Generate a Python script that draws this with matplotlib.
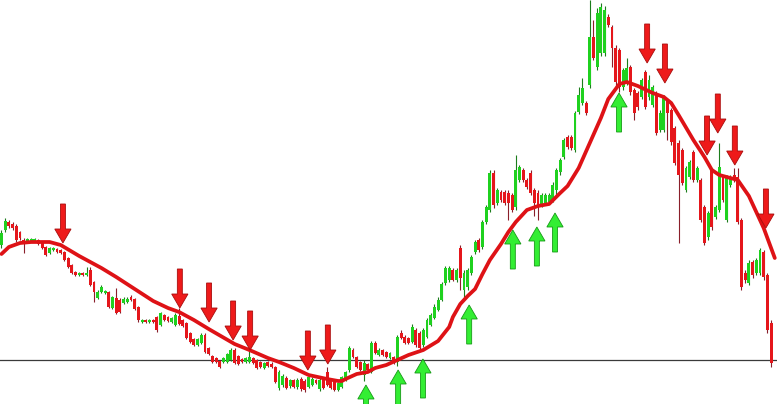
import matplotlib
matplotlib.use("Agg")
import matplotlib.pyplot as plt
import numpy as np

# ---- candle data (price units) ----
opens = [
    159,174,182,180,178,172,164,162,163,163,
    164,161,157,151,154,155,154,152,146,139,
    132,129,131,129,134,122,106,112,111,112,
    96,106,104,101,102,107,105,97,82,84,
    82,84,87,79,89,87,82,79,88,84,
    81,71,65,59,61,69,56,48,46,43,
    42,42,44,54,48,45,42,42,46,44,
    42,36,42,40,37,16,19,26,18,24,
    17,25,23,17,19,24,15,26,32,24,
    22,14,17,24,34,54,47,42,29,40,
    32,61,49,54,52,46,47,42,71,67,
    66,62,74,71,59,67,79,86,94,104,
    121,124,134,124,156,114,117,131,152,164,
    157,182,194,231,201,212,212,211,209,197,
    224,234,224,231,214,211,199,201,202,204,
    214,232,247,267,267,254,292,301,301,319,
    367,337,351,351,387,377,356,354,317,321,
    337,314,311,307,332,307,299,311,274,274,
    304,294,276,261,254,214,227,252,224,224,
    197,167,234,187,194,227,184,219,229,227,
    184,131,121,142,131,131,152,129,81,
]
closes = [
    171,183,178,176,164,166,161,165,165,165,
    160,156,149,156,156,152,151,144,137,131,
    129,131,129,131,119,112,112,117,113,97,
    107,91,92,105,105,104,95,84,84,82,
    84,82,74,91,84,83,86,89,80,78,
    66,62,59,65,69,52,50,42,42,37,
    46,50,54,41,40,42,46,47,41,36,
    37,41,38,37,22,32,28,16,24,17,
    24,15,14,27,25,21,24,16,19,16,
    14,21,27,32,56,47,37,34,41,34,
    61,51,54,49,47,51,41,67,66,61,
    61,77,59,56,74,84,89,97,104,120,
    136,136,124,134,126,131,134,147,162,154,
    182,197,231,199,214,204,201,201,194,234,
    237,224,217,211,201,197,209,209,209,219,
    234,244,264,257,256,291,309,316,291,367,
    346,391,397,394,379,356,322,317,334,336,
    312,291,297,324,297,324,317,271,291,307,
    291,262,241,229,221,236,242,224,236,184,
    161,191,177,197,237,204,227,227,224,182,
    117,124,141,129,144,154,127,74,41,
]
highs = [
    174,186,184,182,180,173,166,166,166,166,
    165,162,158,157,157,156,155,153,147,140,
    133,132,132,137,137,123,114,119,114,113,
    108,116,106,107,107,109,106,98,85,85,
    85,85,88,92,90,88,87,91,96,85,
    82,72,66,66,71,71,57,49,47,44,
    47,51,56,56,49,46,47,54,47,45,
    43,42,43,42,38,34,30,28,25,25,
    26,27,25,29,27,25,26,27,37,25,
    23,22,28,33,58,56,48,43,44,41,
    63,63,56,55,53,52,48,69,74,69,
    67,80,76,73,76,86,91,100,107,122,
    138,138,136,136,159,134,136,149,164,166,
    184,199,234,234,216,214,214,214,211,249,
    239,236,226,234,216,214,211,211,211,222,
    236,246,266,269,269,293,317,326,303,404,
    384,396,401,398,390,379,359,356,336,346,
    339,316,313,326,334,329,319,313,294,309,
    306,296,278,264,256,238,244,254,238,226,
    199,193,236,199,261,229,229,229,236,236,
    186,134,144,144,146,156,154,131,84,
]
lows = [
    156,172,176,174,162,164,151,161,162,162,
    159,155,148,150,153,151,150,143,136,130,
    128,128,128,128,118,102,105,111,110,96,
    95,90,91,100,101,103,94,82,81,81,
    81,81,72,78,83,82,81,78,79,77,
    65,61,58,58,60,51,49,41,41,36,
    41,41,43,40,39,41,41,41,40,35,
    36,35,37,36,21,14,17,15,16,16,
    15,13,12,16,18,20,13,15,18,15,
    13,13,16,23,32,46,36,33,23,32,
    31,50,48,48,46,45,40,38,65,60,
    60,61,57,54,57,66,78,85,93,103,
    119,122,123,122,114,104,114,129,150,152,
    155,180,192,196,199,202,199,184,192,194,
    222,222,215,209,188,184,197,199,200,202,
    209,229,245,255,254,252,290,299,289,316,
    344,334,348,348,377,337,316,312,314,319,
    309,284,294,305,295,304,297,269,272,272,
    264,259,239,161,219,212,225,222,222,182,
    159,164,174,185,192,202,182,217,222,180,
    114,121,119,126,129,129,124,71,37,
]

# ---- moving average ----
ma_index = [0,2,5,8,10,13,16,21,27,31,36,41,45,48,52,56,63,67,72,75,79,83,88,91,92,93,96,99,
            101,104,107,110,114,118,121,122,124,126,128,130,132,135,137,139,142,145,148,
            151,153,156,159,162,164,167,169,172,176,179,181,183,187,190,192,194,196,199,
            202,204,206,208,209]
ma_value = [150,157,161,162,162,162,159,148,136,127,115,103,96,92,84,75,60,54,46,42,36,29,25,23,23,25,30,32,
            36,39,44,49,54,63,77,87,100,108,115,130,144,160,172,182,194,198,200,
            211,218,236,261,286,305,320,322,318,311,307,301,289,264,247,234,229,227,224,
            208,192,176,156,146]

# ---- signals ----
sell_index = [16.6, 48.2, 56.1, 62.6, 67.2, 82.8, 88.2, 174.5, 179.3, 190.7, 193.6, 198.2, 206.6]
sell_price = [161, 96, 82, 64, 54, 34, 40, 341, 321, 249, 271, 239, 176]
buy_index = [98.5, 107.2, 113.9, 126.4, 138.2, 144.7, 149.6, 166.9]
buy_price = [19, 34, 45, 99, 174, 177, 191, 311]

support_level = 44

# ---- drawing ----
fig = plt.figure(figsize=(7.77, 4.04), dpi=100)
ax = fig.add_axes([0, 0, 1, 1])
ax.set_facecolor("white")

o = np.array(opens, float); c = np.array(closes, float)
h = np.array(highs, float); l = np.array(lows, float)
x = np.arange(len(o))
up = c >= o

GREEN = "#1fd11f"; RED = "#e5161b"
GWICK = "#1c7d1c"; RWICK = "#8a1f2a"

ax.axhline(support_level, color="#3a3a3a", lw=0.9, zorder=1)

ax.vlines(x[up], l[up], h[up], color=GWICK, lw=0.8, zorder=2)
ax.vlines(x[~up], l[~up], h[~up], color=RWICK, lw=0.8, zorder=2)
bottom = np.minimum(o, c)
height = np.maximum(np.abs(c - o), 1.5)
ax.bar(x[up], height[up], bottom=bottom[up], width=0.78, color=GREEN, lw=0, zorder=3)
ax.bar(x[~up], height[~up], bottom=bottom[~up], width=0.78, color=RED, lw=0, zorder=3)

ax.plot(ma_index, ma_value, color="#de1216", lw=2.7, solid_capstyle="round",
        solid_joinstyle="round", zorder=4)

ARROW_LEN = 39
for xi, p in zip(sell_index, sell_price):
    ax.arrow(xi, p + ARROW_LEN, 0, -ARROW_LEN, width=1.35, head_width=4.4,
             head_length=14, length_includes_head=True, fc="#ee1a1a",
             ec="#a80d0d", lw=0.6, zorder=5)
for xi, p in zip(buy_index, buy_price):
    ax.arrow(xi, p - ARROW_LEN, 0, ARROW_LEN, width=1.35, head_width=4.4,
             head_length=14, length_includes_head=True, fc="#33ee33",
             ec="#169a16", lw=0.6, zorder=5)

ax.set_xlim(-0.405, 209.6)
ax.set_ylim(0, 404)
ax.axis("off")
fig.savefig("out.png", dpi=100, facecolor="white")
